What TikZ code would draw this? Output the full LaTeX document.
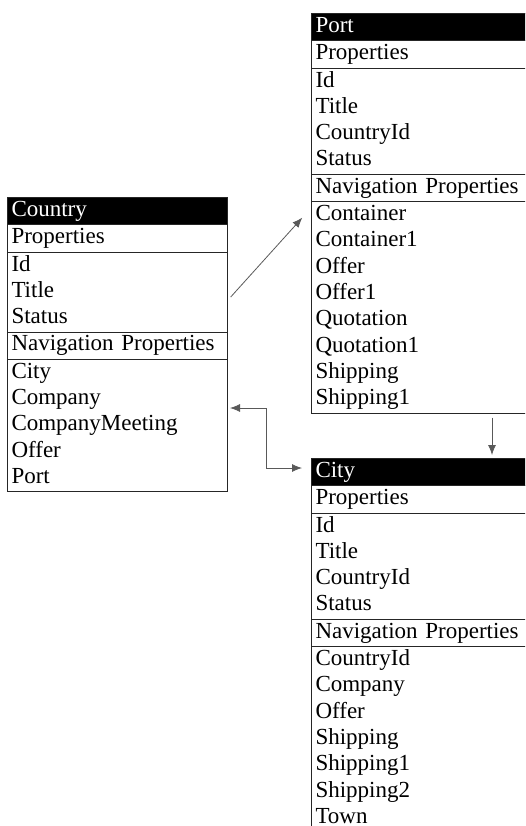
\documentclass[tikz,border=0pt]{standalone}
\usepackage{fontspec}
\setmainfont{Liberation Serif}
\usetikzlibrary{shapes.multipart, arrows.meta}

\tikzset{
    tbl/.style={rectangle split, rectangle split parts=5, draw=black!85, line width=1pt,
        rectangle split part fill={black,white}, text width=#1, align=left,
        inner xsep=4pt, inner ysep=0pt, anchor=north west,
        font=\fontsize{23}{26.3}\selectfont},
    conn/.style={draw=black!65, line width=0.8pt, -{Latex[length=10pt,width=8pt]}}
}
\newcommand{\hdr}[1]{\textcolor{white}{\strut #1}}

\begin{document}
\begin{tikzpicture}[x=1pt, y=-1pt]
    \useasboundingbox (0,0) rectangle (525,826);
    \clip (0,0) rectangle (525,826);
    \node [tbl=212pt] (country) at (7,197) {\hdr{Country}
        \nodepart{two}\strut Properties
        \nodepart{three}\strut Id\\\strut Title\\\strut Status
        \nodepart{four}\strut Navigation Properties
        \nodepart{five}\strut City\\\strut Company\\\strut CompanyMeeting\\\strut Offer\\\strut Port};
    \node [tbl=226pt] (port) at (311,13) {\hdr{Port}
        \nodepart{two}\strut Properties
        \nodepart{three}\strut Id\\\strut Title\\\strut CountryId\\\strut Status
        \nodepart{four}\strut Navigation Properties
        \nodepart{five}\strut Container\\\strut Container1\\\strut Offer\\\strut Offer1\\\strut Quotation\\\strut Quotation1\\\strut Shipping\\\strut Shipping1};
    \node [tbl=226pt] (city) at (311,458) {\hdr{City}
        \nodepart{two}\strut Properties
        \nodepart{three}\strut Id\\\strut Title\\\strut CountryId\\\strut Status
        \nodepart{four}\strut Navigation Properties
        \nodepart{five}\strut CountryId\\\strut Company\\\strut Offer\\\strut Shipping\\\strut Shipping1\\\strut Shipping2\\\strut Town};
    \draw [conn, shorten <=4pt, shorten >=13pt] (country.east |- 0,300) -- (port.west |- 0,208);
    \draw [conn, shorten <=4pt, shorten >=3pt] (port.south -| 492,0) -- (city.north -| 492,0);
    \draw [conn, {Latex[length=10pt,width=8pt]}-{Latex[length=10pt,width=8pt]}, shorten <=2pt, shorten >=9pt]
        (country.east |- 0,408) -- ++(38,0) |- (city.west |- 0,468);
\end{tikzpicture}
\end{document}
